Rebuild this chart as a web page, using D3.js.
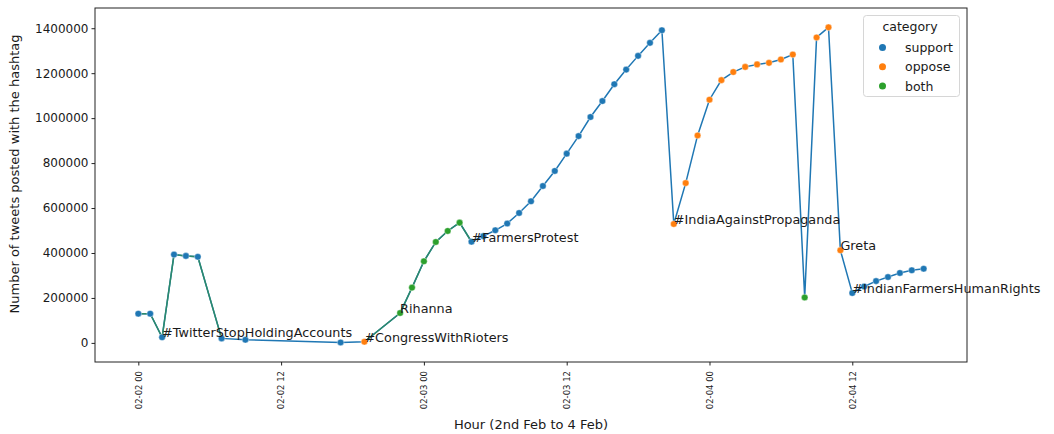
<!DOCTYPE html>
<html><head><meta charset="utf-8">
<script src="https://cdn.jsdelivr.net/npm/d3@7"></script>
<style>
body{margin:0;background:#fff}
svg{display:block}
text{font-family:"DejaVu Sans",sans-serif;fill:#1a1a1a}
</style>
</head><body>
<svg id="c" width="1054" height="434"></svg>
<script>
// ---- data (hours since 02-02 00:00) ----
const hours = [0,1,2,3,4,5,7,9,17,19,22,23,24,25,26,27,28,29,30,31,32,33,34,35,36,37,38,39,40,41,42,43,44,45,46,47,48,49,50,51,52,53,54,55,56,57,58,59,60,61,62,63,64,65,66];
const counts = [130000,130000,25000,393000,387000,383000,20000,14000,2000,5000,133000,246000,363000,449000,498000,535000,450000,475000,501000,531000,578000,630000,698000,765000,842000,920000,1005000,1076000,1151000,1216000,1277000,1335000,1391000,529000,711000,923000,1082000,1169000,1205000,1228000,1239000,1246000,1261000,1283000,202000,1359000,1404000,412000,222000,251000,275000,293000,311000,323000,330000];
const categories = ["support","support","support","support","support","support","support","support","support","oppose","both","both","both","both","both","both","support","support","support","support","support","support","support","support","support","support","support","support","support","support","support","support","support","oppose","oppose","oppose","oppose","oppose","oppose","oppose","oppose","oppose","oppose","oppose","both","oppose","oppose","oppose","support","support","support","support","support","support","support"];
const labelHours = [2,19,22,28,45,59,60];
const labelTexts = ["#TwitterStopHoldingAccounts","#CongressWithRioters","Rihanna","#FarmersProtest","#IndiaAgainstPropaganda","Greta","#IndianFarmersHumanRights"];
const catNames = ["support","oppose","both"];
const catColors = ["#1f77b4","#ff7f0e","#2ca02c"];
const greenRanges = [[0,7],[19,28]];
const yTicks = [0,200000,400000,600000,800000,1000000,1200000,1400000];
const xTickHours = [0,12,24,36,48,60];
const xTickLabels = ["02-02 00","02-02 12","02-03 00","02-03 12","02-04 00","02-04 12"];

const data = hours.map((h,i)=>({h, v:counts[i], c:categories[i]}));
const svg = d3.select("#c");
const L=95, R=967, T=8, B=362;
const x = d3.scaleLinear().domain([-3.64,69.64]).range([L,R]);
const y = d3.scaleLinear().domain([-85000,1490000]).range([B,T]);
const color = d3.scaleOrdinal().domain(catNames).range(catColors);

// axes
const ya = svg.append("g").attr("transform",`translate(${L},0)`)
  .call(d3.axisLeft(y).tickValues(yTicks).tickFormat(d=>String(d)).tickSize(3.5).tickPadding(3));
ya.select(".domain").remove();
ya.selectAll("text").style("font-size","12px").style("font-family","DejaVu Sans");
ya.selectAll("line").attr("stroke","#222");

const xa = svg.append("g").attr("transform",`translate(0,${B})`)
  .call(d3.axisBottom(x).tickValues(xTickHours).tickFormat((d,i)=>xTickLabels[i]).tickSize(3.5));
xa.select(".domain").remove();
xa.selectAll("line").attr("stroke","#222");
xa.selectAll("text").style("font-size","8.5px").style("font-family","DejaVu Sans")
  .attr("transform","rotate(-90)").attr("text-anchor","end").attr("x",-9).attr("y",0).attr("dy","0.32em");

// lines
const line = d3.line().x(d=>x(d.h)).y(d=>y(d.v));
svg.append("path").datum(data).attr("d",line).attr("fill","none").attr("stroke","#1f77b4").attr("stroke-width",1.5);
greenRanges.forEach(([a,b])=>{
  svg.append("path").datum(data.filter(d=>d.h>=a&&d.h<=b)).attr("d",line)
    .attr("fill","none").attr("stroke","#2c8a6a").attr("stroke-width",1.5);
});

// points
svg.append("g").selectAll("circle").data(data).join("circle")
  .attr("cx",d=>x(d.h)).attr("cy",d=>y(d.v)).attr("r",3.3)
  .attr("fill",d=>color(d.c)).attr("stroke","#fff").attr("stroke-width",0.4);

// annotations
svg.append("g").selectAll("text").data(labelHours).join("text")
  .attr("x",h=>x(h)).attr("y",h=>y(counts[hours.indexOf(h)]))
  .style("font-size","12.8px").text((h,i)=>labelTexts[i]);

// frame
svg.append("rect").attr("x",L).attr("y",T).attr("width",R-L).attr("height",B-T)
  .attr("fill","none").attr("stroke","#222").attr("stroke-width",1);

// axis labels
svg.append("text").attr("x",(L+R)/2).attr("y",429).attr("text-anchor","middle")
  .style("font-size","13px").text("Hour (2nd Feb to 4 Feb)");
svg.append("text").attr("transform","translate(19,174) rotate(-90)").attr("text-anchor","middle")
  .style("font-size","13px").text("Number of tweets posted with the hashtag");

// legend
const lg = svg.append("g");
lg.append("rect").attr("x",863.5).attr("y",15.5).attr("width",96).attr("height",81).attr("rx",3)
  .attr("fill","#fff").attr("fill-opacity",0.8).attr("stroke","#d6d6d6");
lg.append("text").attr("x",910).attr("y",31).attr("text-anchor","middle").style("font-size","12.5px").text("category");
catNames.forEach((n,i)=>{
  const yy = 47.5 + i*19.3;
  lg.append("circle").attr("cx",882.5).attr("cy",yy).attr("r",3.5).attr("fill",catColors[i]);
  lg.append("text").attr("x",905).attr("y",yy+4.5).style("font-size","12.5px").text(n);
});
</script>
</body></html>
